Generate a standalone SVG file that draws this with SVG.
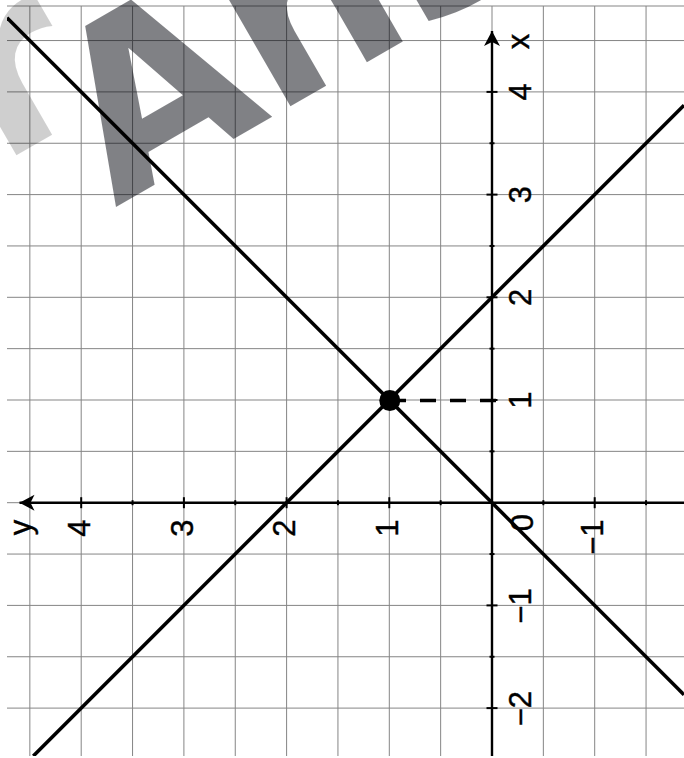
<svg xmlns="http://www.w3.org/2000/svg" width="684" height="758" viewBox="0 0 684 758">
  <style>
    .grid line { stroke: #858585; stroke-width: 1; }
    .axis { stroke: #000; stroke-width: 2.4; fill: none; }
    .tick { stroke: #000; stroke-width: 2; }
    .graph { stroke: #000; stroke-width: 3.6; fill: none; }
    .lbl { font-family: "Liberation Sans", Arial, sans-serif; font-size: 31px; fill: #000; stroke: #000; stroke-width: 0.4; text-anchor: middle; }
    .wm { font-family: "DejaVu Sans", sans-serif; font-weight: bold; font-size: 236px; }
  </style>
  <defs>
    <marker id="arr" markerWidth="16" markerHeight="18" refX="15" refY="8" orient="auto" markerUnits="userSpaceOnUse">
      <path d="M0,0 L15,8 L0,16 L4,8 Z" fill="#000"/>
    </marker>
    <clipPath id="area"><rect x="7" y="6" width="677" height="750"/></clipPath>
  </defs>
  <rect width="684" height="758" fill="#fff"/>

  <g id="grid" class="grid">
    <line x1="7" y1="6" x2="684" y2="6"/>
    <line x1="7" y1="40.55" x2="684" y2="40.55"/>
    <line x1="7" y1="91.9" x2="684" y2="91.9"/>
    <line x1="7" y1="143.25" x2="684" y2="143.25"/>
    <line x1="7" y1="194.6" x2="684" y2="194.6"/>
    <line x1="7" y1="245.95" x2="684" y2="245.95"/>
    <line x1="7" y1="297.3" x2="684" y2="297.3"/>
    <line x1="7" y1="348.65" x2="684" y2="348.65"/>
    <line x1="7" y1="400" x2="684" y2="400"/>
    <line x1="7" y1="451.35" x2="684" y2="451.35"/>
    <line x1="7" y1="502.7" x2="684" y2="502.7"/>
    <line x1="7" y1="554.05" x2="684" y2="554.05"/>
    <line x1="7" y1="605.4" x2="684" y2="605.4"/>
    <line x1="7" y1="656.75" x2="684" y2="656.75"/>
    <line x1="7" y1="708.1" x2="684" y2="708.1"/>
    <line x1="29.85" y1="6" x2="29.85" y2="756"/>
    <line x1="81.2" y1="6" x2="81.2" y2="756"/>
    <line x1="132.55" y1="6" x2="132.55" y2="756"/>
    <line x1="183.9" y1="6" x2="183.9" y2="756"/>
    <line x1="235.25" y1="6" x2="235.25" y2="756"/>
    <line x1="286.6" y1="6" x2="286.6" y2="756"/>
    <line x1="337.95" y1="6" x2="337.95" y2="756"/>
    <line x1="389.3" y1="6" x2="389.3" y2="756"/>
    <line x1="440.65" y1="6" x2="440.65" y2="756"/>
    <line x1="492" y1="6" x2="492" y2="756"/>
    <line x1="543.35" y1="6" x2="543.35" y2="756"/>
    <line x1="594.7" y1="6" x2="594.7" y2="756"/>
    <line x1="646.05" y1="6" x2="646.05" y2="756"/>
  </g>

  <g id="watermark">
    <text class="wm" fill="#000" fill-opacity="0.19" text-anchor="end" transform="translate(100,107) rotate(-30)">zur</text>
    <text class="wm" fill="#02040c" fill-opacity="0.5" transform="translate(115,207.5) rotate(-30)">Ansicht</text>
  </g>

  <g id="axes">
    <line id="x-axis" class="axis" x1="492" y1="756" x2="492" y2="31" marker-end="url(#arr)"/>
    <line id="y-axis" class="axis" x1="684" y1="502.7" x2="19.5" y2="502.7" marker-end="url(#arr)"/>
    <g id="x-ticks" class="tick">
      <line x1="486.5" y1="91.9" x2="497.5" y2="91.9"/>
      <line x1="489.5" y1="143.25" x2="494.5" y2="143.25"/>
      <line x1="486.5" y1="194.6" x2="497.5" y2="194.6"/>
      <line x1="489.5" y1="245.95" x2="494.5" y2="245.95"/>
      <line x1="486.5" y1="297.3" x2="497.5" y2="297.3"/>
      <line x1="489.5" y1="348.65" x2="494.5" y2="348.65"/>
      <line x1="486.5" y1="400" x2="497.5" y2="400"/>
      <line x1="489.5" y1="451.35" x2="494.5" y2="451.35"/>
      <line x1="489.5" y1="554.05" x2="494.5" y2="554.05"/>
      <line x1="486.5" y1="605.4" x2="497.5" y2="605.4"/>
      <line x1="489.5" y1="656.75" x2="494.5" y2="656.75"/>
      <line x1="486.5" y1="708.1" x2="497.5" y2="708.1"/>
    </g>
    <g id="y-ticks" class="tick">
      <line x1="81.2" y1="497.2" x2="81.2" y2="508.2"/>
      <line x1="132.55" y1="500.2" x2="132.55" y2="505.2"/>
      <line x1="183.9" y1="497.2" x2="183.9" y2="508.2"/>
      <line x1="235.25" y1="500.2" x2="235.25" y2="505.2"/>
      <line x1="286.6" y1="497.2" x2="286.6" y2="508.2"/>
      <line x1="337.95" y1="500.2" x2="337.95" y2="505.2"/>
      <line x1="389.3" y1="497.2" x2="389.3" y2="508.2"/>
      <line x1="440.65" y1="500.2" x2="440.65" y2="505.2"/>
      <line x1="543.35" y1="500.2" x2="543.35" y2="505.2"/>
      <line x1="594.7" y1="497.2" x2="594.7" y2="508.2"/>
      <line x1="646.05" y1="500.2" x2="646.05" y2="505.2"/>
    </g>
  </g>

  <g id="connectors" clip-path="url(#area)">
    <line id="line-y-eq-x" class="graph" x1="7" y1="17.7" x2="684" y2="694.7"/>
    <line id="line-x-plus-y-eq-2" class="graph" x1="33.3" y1="756" x2="684" y2="105.3"/>
    <line id="dash-to-axis" x1="390" y1="400.5" x2="497" y2="400.5" stroke="#000" stroke-width="3.3" stroke-dasharray="16 14"/>
  </g>

  <g id="intersection-point">
    <circle cx="389.8" cy="400.5" r="10.5" fill="#000"/>
  </g>

  <g id="labels">
    <text class="lbl" transform="translate(529.3,41.5) rotate(-90)">x</text>
    <text class="lbl" transform="translate(530.6,91.9) rotate(-90)">4</text>
    <text class="lbl" transform="translate(530.6,194.6) rotate(-90)">3</text>
    <text class="lbl" transform="translate(530.6,297.3) rotate(-90)">2</text>
    <text class="lbl" transform="translate(530.6,400) rotate(-90)">1</text>
    <text class="lbl" transform="translate(530.6,606) rotate(-90)">−1</text>
    <text class="lbl" transform="translate(530.6,708.6) rotate(-90)">−2</text>
    <text class="lbl" transform="translate(31,527.5) rotate(-90)">y</text>
    <text class="lbl" transform="translate(89.8,528) rotate(-90)">4</text>
    <text class="lbl" transform="translate(192.5,528) rotate(-90)">3</text>
    <text class="lbl" transform="translate(295.2,528) rotate(-90)">2</text>
    <text class="lbl" transform="translate(397.9,528) rotate(-90)">1</text>
    <text class="lbl" transform="translate(532.9,522.5) rotate(-90)">0</text>
    <text class="lbl" style="text-anchor:end" transform="translate(603.4,519.4) rotate(-90)">−1</text>
  </g>
</svg>
